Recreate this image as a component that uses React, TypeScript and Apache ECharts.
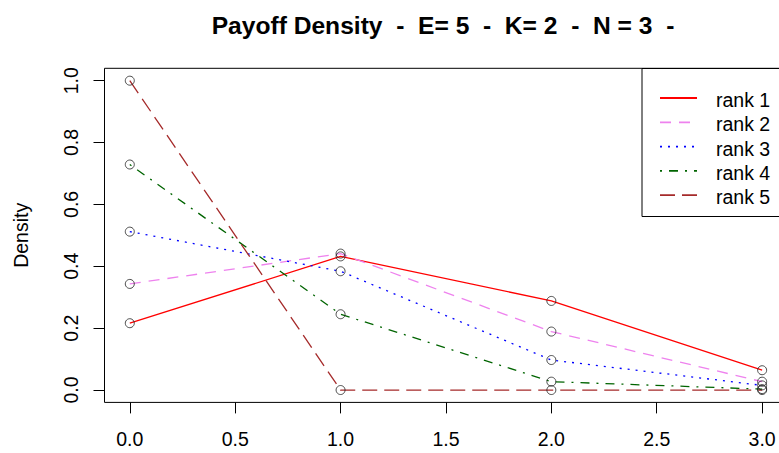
import { useEffect, useRef } from "react";
import * as echarts from "echarts";

const xValues = [0, 1, 2, 3];
const rankNames = ["rank 1", "rank 2", "rank 3", "rank 4", "rank 5"];
const rank1 = [0.216, 0.432, 0.288, 0.064];
const rank2 = [0.343, 0.441, 0.189, 0.027];
const rank3 = [0.512, 0.384, 0.097, 0.015];
const rank4 = [0.729, 0.245, 0.027, 0.003];
const rank5 = [1.0, 0.0, 0.0, 0.0];
const xTicks = [0, 0.5, 1, 1.5, 2, 2.5, 3];
const yTicks = [0, 0.2, 0.4, 0.6, 0.8, 1.0];
const titleText = "Payoff Density  -  E= 5  -  K= 2  -  N = 3  -";
const yName = "Density";

const rankValues = [rank1, rank2, rank3, rank4, rank5];
const rankColors = ["#FF0000", "#EE82EE", "#0000FF", "#006400", "#A52A2A"];
const rankDash: any[] = ["solid", [11, 8], [2, 6], [2, 7, 9, 7], [15, 7]];

const FONT = "'Liberation Sans', Arial, sans-serif";
const FS = 19.5;

export default function App() {
  const ref = useRef<HTMLDivElement>(null);
  useEffect(() => {
    if (!ref.current) return;
    const chart = echarts.init(ref.current, null, { renderer: "svg" });

    const lineSeries = rankValues.map((vals, k) => ({
      name: rankNames[k],
      type: "line",
      data: xValues.map((x, i) => [x, vals[i]]),
      symbol: "none",
      lineStyle: { color: rankColors[k], width: 1.3, type: rankDash[k] },
      z: 2,
      silent: true,
    }));
    const pointSeries = rankValues.map((vals, k) => ({
      name: rankNames[k] + " pts",
      type: "scatter",
      data: xValues.map((x, i) => [x, vals[i]]),
      symbol: "circle",
      symbolSize: 9,
      itemStyle: { color: "transparent", borderColor: "#222", borderWidth: 1 },
      z: 3,
      silent: true,
    }));

    const gLeft = 104.5;
    const gTop = 68.3;
    const gBottom = 402.4;

    const legendTop = 100;
    const legendStep = 24.3;
    const els: any[] = [
      {
        type: "polyline",
        shape: {
          points: [
            [800, gTop],
            [gLeft, gTop],
            [gLeft, gBottom],
            [800, gBottom],
          ],
        },
        style: { fill: null, stroke: "#000", lineWidth: 1 },
        z: 5,
        silent: true,
      },
      {
        type: "rect",
        shape: { x: 642, y: 68.5, width: 200, height: 148 },
        style: { fill: "#fff", stroke: "#000", lineWidth: 1 },
        z: 10,
      },
    ];
    rankNames.forEach((nm, k) => {
      const y = legendTop + k * legendStep;
      els.push({
        type: "line",
        shape: { x1: 660, y1: y - 2, x2: 697, y2: y - 2 },
        style: {
          stroke: rankColors[k],
          lineWidth: 1.8,
          lineDash: rankDash[k] === "solid" ? null : rankDash[k],
        },
        z: 11,
      });
      els.push({
        type: "text",
        x: 716,
        y: y,
        style: {
          text: nm,
          fill: "#000",
          font: `${FS}px ${FONT}`,
          textVerticalAlign: "middle",
          verticalAlign: "middle",
        },
        z: 11,
      });
    });

    chart.setOption({
      animation: false,
      backgroundColor: "#fff",
      textStyle: { fontFamily: FONT },
      title: {
        text: titleText,
        left: 438,
        top: 8,
        textAlign: "center",
        textStyle: { fontSize: 24.6, fontWeight: "bold", color: "#000", fontFamily: FONT },
      },
      grid: {
        show: false,
        left: gLeft,
        top: gTop,
        right: 0,
        height: gBottom - gTop,
      },
      xAxis: {
        type: "value",
        min: -0.12,
        max: 3.08,
        axisLine: { show: false, onZero: false },
        splitLine: { show: false },
        axisTick: {
          show: true,
          inside: false,
          length: 11,
          customValues: xTicks,
          lineStyle: { color: "#000", width: 1 },
        },
        axisLabel: {
          customValues: xTicks,
          formatter: (v: number) => v.toFixed(1),
          fontSize: FS,
          color: "#000",
          margin: 27,
          fontFamily: FONT,
        },
      },
      yAxis: {
        type: "value",
        min: -0.04,
        max: 1.04,
        name: yName,
        nameLocation: "middle",
        nameGap: 74,
        nameRotate: 90,
        nameTextStyle: { fontSize: FS, color: "#000", fontFamily: FONT },
        axisLine: { show: false, onZero: false },
        splitLine: { show: false },
        axisTick: {
          show: true,
          inside: false,
          length: 11,
          customValues: yTicks,
          lineStyle: { color: "#000", width: 1 },
        },
        axisLabel: {
          customValues: yTicks,
          formatter: (v: number) => v.toFixed(1),
          rotate: 90,
          fontSize: FS,
          color: "#000",
          margin: 24,
          fontFamily: FONT,
        },
      },
      series: [...lineSeries, ...pointSeries],
      graphic: els,
    });
    return () => chart.dispose();
  }, []);
  return (
    <div
      ref={ref}
      style={{ position: "absolute", left: 0, top: 0, width: 779, height: 453 }}
    />
  );
}
